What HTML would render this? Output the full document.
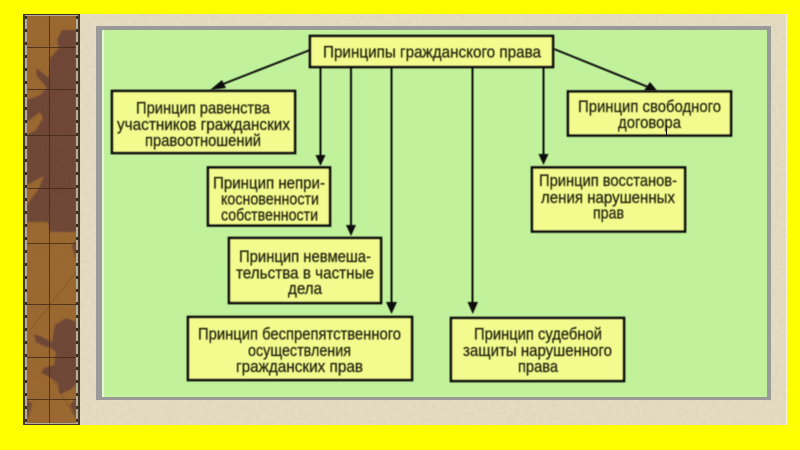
<!DOCTYPE html>
<html>
<head>
<meta charset="utf-8">
<style>
html,body{margin:0;padding:0;background:#ffff00;width:800px;height:450px;overflow:hidden}
svg{display:block}
text{font-family:"Liberation Sans Narrow","Liberation Sans","DejaVu Sans",sans-serif;font-size:17px;fill:#23230f;stroke:#23230f;stroke-width:.25px;text-anchor:start}
</style>
</head>
<body>
<svg width="800" height="450" viewBox="0 0 800 450" xmlns="http://www.w3.org/2000/svg">
<defs>
<filter id="grain" x="0" y="0" width="100%" height="100%">
<feTurbulence type="fractalNoise" baseFrequency="0.9" numOctaves="2" seed="4"/>
<feColorMatrix type="matrix" values="0 0 0 0 0.2  0 0 0 0 0.1  0 0 0 0 0.05  0 0 0 1.3 -0.35"/>
</filter>
<filter id="paper" x="0" y="0" width="100%" height="100%">
<feTurbulence type="fractalNoise" baseFrequency="0.25" numOctaves="3" seed="8"/>
<feColorMatrix type="matrix" values="0 0 0 0 0.55  0 0 0 0 0.5  0 0 0 0 0.35  0 0 0 0.7 -0.22"/>
</filter>
<filter id="soft"><feGaussianBlur stdDeviation="0.45"/></filter>
<filter id="soft2"><feGaussianBlur stdDeviation="0.8"/></filter>
<clipPath id="strip"><rect x="27" y="16" width="49" height="407"/></clipPath>
</defs>

<rect width="800" height="450" fill="#ffff00"/>
<rect x="23" y="14" width="764" height="411" fill="#e4ddc4"/>
<rect x="23" y="14" width="764" height="411" filter="url(#paper)" opacity=".55"/>
<rect x="786" y="14" width="1" height="411" fill="#f4f0df"/>

<!-- left strip -->
<rect x="23" y="14" width="57" height="411" fill="#4a3a2a"/>
<rect x="25" y="15" width="53" height="409" fill="#b5ac98"/>
<g clip-path="url(#strip)">
<rect x="27" y="16" width="49" height="407" fill="#a36c2c"/>
<g fill="#6c4334" filter="url(#soft2)">
<path d="M76 30 L62 30 L57 40 L59 48 L50 58 L49 78 L36 68 L37 76 L47 88 L40 95 L27 100 L27 122 L40 112 L43 118 L36 130 L27 135 L27 185 L40 178 L44 176 L38 190 L28 203 L27 205 L27 222 L48 222 L50 232 L76 232 Z"/>
<path d="M72 246 L76 260 L76 240 Z"/>
<path d="M66 318 L55 325 L52 342 L40 336 L34 334 L36 342 L46 347 L50 347 L56 352 L54 365 L44 368 L41 373 L52 378 L58 384 L60 394 L70 390 L76 385 L76 322 Z"/>
<path d="M27 400 L32 404 L28 418 L27 418 Z"/>
<path d="M70 405 L76 398 L76 418 Z"/>
</g>
<rect x="27" y="16" width="49" height="407" filter="url(#grain)" opacity=".75"/>
<g stroke="#3f2a18" stroke-width="1" opacity=".8" fill="none">
<path d="M49.500 16V423"/>
<path d="M27 47.500H76M27 89.500H76M27 135.500H76M27 188.500H76M27 243.500H76M27 304.500H76M27 357.500H76M27 399.500H76"/>
<path d="M30 330L76 272M48 372L76 418" opacity=".3"/>
</g>
</g>
<path d="M23.500 14V425M79.500 14V425M23 14.500H80M23 424.500H80" stroke="#3e3428" fill="none"/>
<path d="M26 16V424M77 16V424" stroke="#3a2c20" stroke-width="2" stroke-dasharray="3 10" fill="none"/>

<!-- panel -->
<rect x="96" y="26" width="675" height="374" fill="#9a9a98"/>
<rect x="102" y="30" width="665" height="367" fill="#c1f29b"/>
<rect x="102" y="30" width="2" height="367" fill="#e8f8d6"/>

<!-- connectors -->
<g stroke="#0c0c0c" stroke-width="2" fill="none" filter="url(#soft)">
<path d="M310 50L218 86"/>
<path d="M320.500 67V158"/>
<path d="M351 67V228"/>
<path d="M391.500 67V306"/>
<path d="M472.500 67V306"/>
<path d="M543.500 67V157"/>
<path d="M554 49L648 87"/>
</g>
<g fill="#0c0c0c" filter="url(#soft)">
<path d="M210 90L222 80L226 88Z"/>
<path d="M315.500 155H325.500L320.500 166Z"/>
<path d="M346 225H356L351 236Z"/>
<path d="M386 302H397L391.500 314Z"/>
<path d="M467.500 302H478L472.800 314Z"/>
<path d="M538.500 154H548.500L543.500 165Z"/>
<path d="M657 90.500L644 90.500L650 82Z"/>
</g>

<!-- boxes -->
<g fill="#f3fb8e" stroke="#0c0c0c" stroke-width="2.700" filter="url(#soft)">
<rect x="310" y="36" width="243" height="31"/>
<rect x="112" y="91" width="183" height="62"/>
<rect x="208" y="167.500" width="122" height="58"/>
<rect x="229" y="238" width="152" height="65"/>
<rect x="188" y="317" width="224" height="63"/>
<rect x="451" y="318" width="173" height="63"/>
<rect x="568" y="91.500" width="163" height="44"/>
<rect x="532" y="167.500" width="153" height="64"/>
</g>
<path d="M666.500 125V135" stroke="#0c0c0c" stroke-width="1"/>

<!-- text -->
<g filter="url(#soft)">
<text x="323" y="57.500" textLength="218" lengthAdjust="spacingAndGlyphs">Принципы гражданского права</text>

<text x="136" y="113.500" textLength="134" lengthAdjust="spacingAndGlyphs">Принцип равенства</text>
<text x="117" y="130" textLength="173" lengthAdjust="spacingAndGlyphs">участников гражданских</text>
<text x="145" y="146" textLength="116" lengthAdjust="spacingAndGlyphs">правоотношений</text>

<text x="213" y="188.500" textLength="112" lengthAdjust="spacingAndGlyphs">Принцип непри-</text>
<text x="221" y="204.500" textLength="98" lengthAdjust="spacingAndGlyphs">косновенности</text>
<text x="221" y="220.500" textLength="97" lengthAdjust="spacingAndGlyphs">собственности</text>

<text x="239" y="262" textLength="132" lengthAdjust="spacingAndGlyphs">Принцип невмеша-</text>
<text x="236" y="278.500" textLength="138" lengthAdjust="spacingAndGlyphs">тельства в частные</text>
<text x="288" y="294" textLength="34" lengthAdjust="spacingAndGlyphs">дела</text>

<text x="198" y="339.500" textLength="203" lengthAdjust="spacingAndGlyphs">Принцип беспрепятственного</text>
<text x="248" y="356" textLength="103" lengthAdjust="spacingAndGlyphs">осуществления</text>
<text x="236" y="372" textLength="127" lengthAdjust="spacingAndGlyphs">гражданских прав</text>

<text x="474" y="339.500" textLength="128" lengthAdjust="spacingAndGlyphs">Принцип судебной</text>
<text x="463" y="356" textLength="149" lengthAdjust="spacingAndGlyphs">защиты нарушенного</text>
<text x="518" y="372" textLength="40" lengthAdjust="spacingAndGlyphs">права</text>

<text x="578" y="112" textLength="143" lengthAdjust="spacingAndGlyphs">Принцип свободного</text>
<text x="618" y="128" textLength="63" lengthAdjust="spacingAndGlyphs">договора</text>

<text x="539" y="186" textLength="138" lengthAdjust="spacingAndGlyphs">Принцип восстанов-</text>
<text x="541" y="203" textLength="134" lengthAdjust="spacingAndGlyphs">ления нарушенных</text>
<text x="593" y="218.500" textLength="31" lengthAdjust="spacingAndGlyphs">прав</text>
</g>
</svg>
</body>
</html>
